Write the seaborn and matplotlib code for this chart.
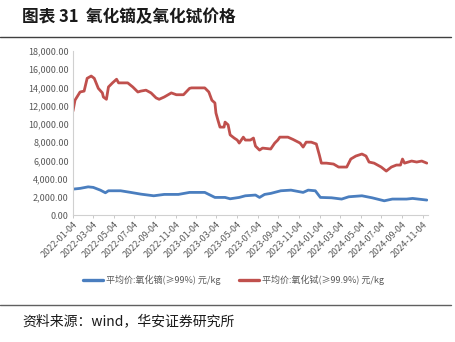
import matplotlib
matplotlib.use("Agg")
import matplotlib.pyplot as plt
from matplotlib.ticker import FuncFormatter
from matplotlib.lines import Line2D
import seaborn as sns
import pandas as pd

sns.set_theme(style="white")
plt.rcParams['font.family'] = ['Noto Sans CJK SC', 'DejaVu Sans']

# 平均价:氧化铽(≥99.9%) 元/kg
tb_dates = ["2022-01-04", "2022-01-10", "2022-01-25", "2022-02-06", "2022-02-15", "2022-02-27",
            "2022-03-08", "2022-03-20", "2022-04-01", "2022-04-04", "2022-04-13", "2022-04-19",
            "2022-05-01", "2022-05-13", "2022-05-19", "2022-06-15", "2022-06-30", "2022-07-15",
            "2022-07-24", "2022-08-08", "2022-08-23", "2022-09-07", "2022-09-16", "2022-10-01",
            "2022-10-22", "2022-11-06", "2022-11-27", "2022-12-15", "2022-12-21", "2023-01-29",
            "2023-02-10", "2023-02-19", "2023-02-28", "2023-03-03", "2023-03-09", "2023-03-15",
            "2023-03-27", "2023-03-30", "2023-04-08", "2023-04-14", "2023-04-26", "2023-05-05",
            "2023-05-11", "2023-05-23", "2023-05-29", "2023-06-13", "2023-06-22", "2023-06-28",
            "2023-07-10", "2023-07-19", "2023-08-12", "2023-08-24", "2023-09-02", "2023-09-08",
            "2023-10-02", "2023-10-17", "2023-11-07", "2023-11-16", "2023-11-25", "2023-12-10",
            "2023-12-25", "2024-01-03", "2024-01-09", "2024-01-24", "2024-02-14", "2024-02-29",
            "2024-03-24", "2024-04-05", "2024-04-20", "2024-05-08", "2024-05-20", "2024-05-29",
            "2024-06-13", "2024-07-04", "2024-07-19", "2024-08-03", "2024-08-18", "2024-08-30",
            "2024-09-05", "2024-09-11", "2024-10-02", "2024-10-17", "2024-11-01", "2024-11-16"]
tb_values = [11400, 12600, 13500, 13600, 15000, 15250,
             15000, 13900, 13400, 12950, 12700, 14050,
             14500, 14900, 14500, 14500, 14050, 13500,
             13600, 13700, 13400, 12850, 12700, 12950,
             13400, 13200, 13200, 13900, 13950, 13950,
             13500, 12600, 12300, 11200, 10400, 9650,
             9650, 10200, 9900, 8800, 8450, 8230,
             7900, 8550, 8230, 8230, 8450, 7570,
             7130, 7350, 7250, 7900, 8230, 8550,
             8550, 8300, 7900, 7460, 8000, 8000,
             7800, 6590, 5700, 5700, 5600, 5270,
             5270, 6150, 6480, 6700, 6480, 5820,
             5700, 5270, 4830, 5270, 5490, 5490,
             6150, 5700, 5930, 5820, 5930, 5700]

# 平均价:氧化镝(≥99%) 元/kg
dy_dates = ["2022-01-04", "2022-01-25", "2022-02-18", "2022-03-05", "2022-03-26", "2022-04-10",
            "2022-04-19", "2022-05-25", "2022-06-24", "2022-07-24", "2022-08-31", "2022-10-01",
            "2022-11-12", "2022-12-15", "2023-01-29", "2023-02-28", "2023-03-30", "2023-04-14",
            "2023-05-11", "2023-05-29", "2023-06-28", "2023-07-10", "2023-07-25", "2023-08-12",
            "2023-09-11", "2023-10-11", "2023-11-16", "2023-12-01", "2023-12-22", "2024-01-06",
            "2024-02-08", "2024-03-09", "2024-03-30", "2024-05-08", "2024-06-07", "2024-07-13",
            "2024-08-06", "2024-09-17", "2024-10-05", "2024-11-16"]
dy_values = [2850, 2930, 3100, 3040, 2740, 2450,
             2670, 2670, 2490, 2300, 2120, 2270,
             2270, 2490, 2490, 1940, 1940, 1790,
             1940, 2120, 2200, 1940, 2270, 2380,
             2670, 2740, 2490, 2740, 2670, 1940,
             1900, 1760, 2010, 2120, 1900, 1570,
             1760, 1760, 1830, 1650]

series_dy = "平均价:氧化镝(≥99%) 元/kg"
series_tb = "平均价:氧化铽(≥99.9%) 元/kg"
y_ticks = [0, 2000, 4000, 6000, 8000, 10000, 12000, 14000, 16000, 18000]
x_tick_labels = ["2022-01-04", "2022-03-04", "2022-05-04", "2022-07-04", "2022-09-04", "2022-11-04",
                 "2023-01-04", "2023-03-04", "2023-05-04", "2023-07-04", "2023-09-04", "2023-11-04",
                 "2024-01-04", "2024-03-04", "2024-05-04", "2024-07-04", "2024-09-04", "2024-11-04"]

df = pd.concat([
    pd.DataFrame({"date": pd.to_datetime(dy_dates), "value": dy_values, "series": series_dy}),
    pd.DataFrame({"date": pd.to_datetime(tb_dates), "value": tb_values, "series": series_tb}),
])

blue = "#4A7EBF"
red = "#C0504D"
grey_text = "#595959"

fig = plt.figure(figsize=(4.56, 3.42), dpi=100)
ax = fig.add_axes([0.160, 0.371, 0.779, 0.480])

sns.lineplot(data=df, x="date", y="value", hue="series",
             palette={series_dy: blue, series_tb: red},
             linewidth=2.0, ax=ax, legend=False, estimator=None)

ax.set_ylim(0, 18000)
ax.set_yticks(y_ticks)
ax.yaxis.set_major_formatter(FuncFormatter(lambda v, p: f"{v:,.2f}"))
ax.set_xlim(pd.Timestamp("2022-01-04"), pd.Timestamp("2024-11-20"))
ax.set_xticks(pd.to_datetime(x_tick_labels))
ax.set_xticklabels(x_tick_labels, rotation=45, ha="right", rotation_mode="anchor")
ax.set_xlabel("")
ax.set_ylabel("")

ax.tick_params(axis="y", labelsize=6.5, colors=grey_text, length=0, pad=3)
ax.tick_params(axis="x", labelsize=6.5, colors=grey_text, length=2.5, width=0.6,
               color="#BFBFBF", pad=1, direction="out", bottom=True)
for s in ["top", "right"]:
    ax.spines[s].set_visible(False)
for s in ["left", "bottom"]:
    ax.spines[s].set_color("#D0D0D0")
    ax.spines[s].set_linewidth(0.8)

handles = [Line2D([], [], color=blue, lw=2.4), Line2D([], [], color=red, lw=2.4)]
fig.legend(handles, [series_dy, series_tb], loc="center", bbox_to_anchor=(0.512, 0.181),
           ncol=2, frameon=False, fontsize=6.5, labelcolor=grey_text,
           handlelength=2.2, columnspacing=2.0, handletextpad=0.4)

fig.text(0.048, 0.950, "图表 31  氧化镝及氧化铽价格", fontsize=12, fontweight="bold",
         color="#1a1a1a", va="center", ha="left")
fig.add_artist(Line2D([0.0, 0.99], [0.892, 0.892], color="#404040", lw=1.0,
                      transform=fig.transFigure))
fig.add_artist(Line2D([0.0, 0.99], [0.108, 0.108], color="#606060", lw=1.0,
                      transform=fig.transFigure))
fig.text(0.048, 0.062, "资料来源：wind，华安证券研究所", fontsize=10, color="#1a1a1a",
         va="center", ha="left")

fig.savefig("out.png", dpi=100)
